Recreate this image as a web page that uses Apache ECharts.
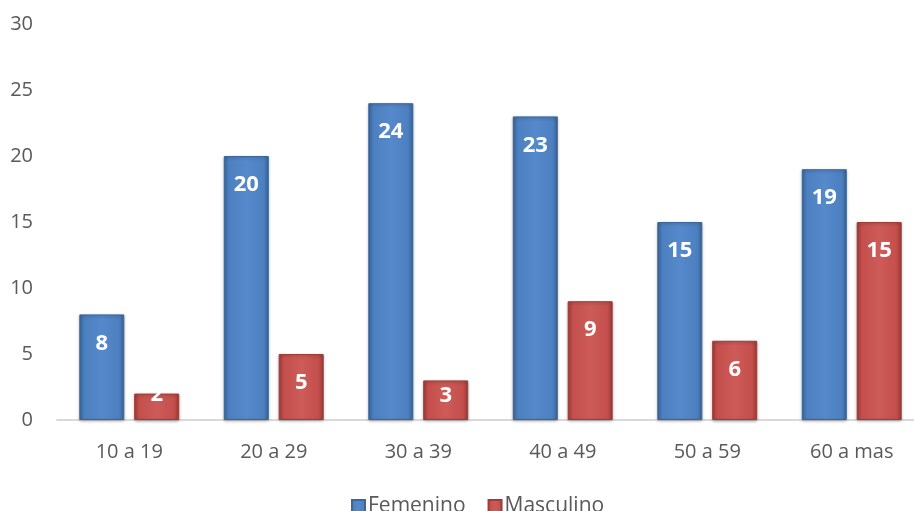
<!DOCTYPE html>
<html>
<head>
<meta charset="utf-8">
<script src="https://cdn.jsdelivr.net/npm/echarts@6/dist/echarts.min.js"></script>
<style>html,body{margin:0;padding:0;background:#fff;}#c{width:914px;height:511px;}</style>
</head>
<body>
<div id="c"></div>
<script>
const categories = ['10 a 19', '20 a 29', '30 a 39', '40 a 49', '50 a 59', '60 a mas'];
const femenino = [8, 20, 24, 23, 15, 19];
const masculino = [2, 5, 3, 9, 6, 15];
const yTicks = { min: 0, max: 30, interval: 5 };

const FONT = '"Open Sans", sans-serif';
function grad(edge, mid, center) {
  return new echarts.graphic.LinearGradient(0, 0, 1, 0, [
    { offset: 0, color: edge },
    { offset: 0.12, color: mid },
    { offset: 0.5, color: center },
    { offset: 0.88, color: mid },
    { offset: 1, color: edge }
  ]);
}
const blue = grad('#3a679f', '#4d80c0', '#5589cb');
const red = grad('#a23c39', '#c44f4c', '#cd5b58');

function labelData(vals) {
  return vals.map(v => {
    const item = { value: v };
    if (v === 3) item.label = { distance: 4 };
    if (v === 2) item.label = { distance: -10 };
    return item;
  });
}

const chart = echarts.init(document.getElementById('c'), null, { renderer: 'canvas' });
chart.setOption({
  animation: false,
  backgroundColor: '#ffffff',
  grid: { left: 57, right: -10, top: 24, bottom: 91, containLabel: false, outerBoundsMode: 'none' },
  legend: {
    left: 346, top: 491,
    itemWidth: 13, itemHeight: 13, itemGap: 22,
    textStyle: { fontFamily: FONT, fontSize: 21, color: '#595959', padding: [0, 0, 0, -2] },
    data: [
      { name: 'Femenino', icon: 'rect', itemStyle: { color: blue } },
      { name: 'Masculino', icon: 'rect', itemStyle: { color: red } }
    ]
  },
  xAxis: {
    type: 'category',
    data: categories,
    axisLine: { lineStyle: { color: '#d9d9d9', width: 2 } },
    axisTick: { show: false },
    axisLabel: { fontFamily: FONT, fontSize: 20, color: '#595959', margin: 22 }
  },
  yAxis: {
    type: 'value',
    min: yTicks.min, max: yTicks.max, interval: yTicks.interval,
    axisLine: { show: false },
    axisTick: { show: false },
    splitLine: { show: false },
    axisLabel: { fontFamily: FONT, fontSize: 20, color: '#595959', margin: 24 }
  },
  series: [
    {
      name: 'Femenino', type: 'bar', barWidth: 45, barGap: '22%',
      data: labelData(femenino),
      itemStyle: { color: blue, borderColor: '#3b679c', borderWidth: 1, shadowBlur: 3, shadowColor: 'rgba(0,0,0,0.3)', shadowOffsetY: 1 },
      label: { show: true, position: 'insideTop', distance: 18, fontFamily: FONT, fontWeight: 'bold', fontSize: 22, color: '#ffffff' }
    },
    {
      name: 'Masculino', type: 'bar', barWidth: 45,
      data: labelData(masculino),
      itemStyle: { color: red, borderColor: '#9e3c39', borderWidth: 1, shadowBlur: 3, shadowColor: 'rgba(0,0,0,0.3)', shadowOffsetY: 1 },
      label: { show: true, position: 'insideTop', distance: 18, fontFamily: FONT, fontWeight: 'bold', fontSize: 22, color: '#ffffff' }
    }
  ]
});
</script>
</body>
</html>
